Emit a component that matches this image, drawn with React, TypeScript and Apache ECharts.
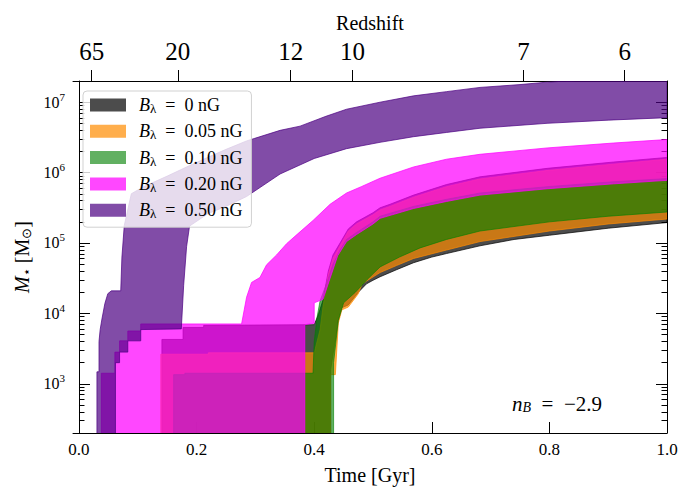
import React, { useEffect, useRef } from "react";
import * as echarts from "echarts";

const FONT = "Liberation Serif";

// Each curve: [time in Gyr, log10(M*/Msun)]; 2.0 means "below the axis" (not yet formed)
const b0Upper: [number, number][] = [
  [0.141, 2.0], [0.141, 3.63], [0.177, 3.63], [0.177, 3.8], [0.212, 3.8], [0.212, 3.83], [0.4, 3.84],
  [0.407, 3.98], [0.415, 4.19], [0.424, 4.6], [0.432, 4.83], [0.444, 5.0], [0.458, 5.2], [0.472, 5.3],
  [0.5, 5.43], [0.512, 5.5], [0.529, 5.55], [0.569, 5.68], [0.625, 5.83], [0.682, 5.94], [0.796, 6.06],
  [0.909, 6.15], [1.0, 6.215],
];
const b0Lower: [number, number][] = [
  [0.141, 2.0], [0.428, 2.0], [0.428, 3.2], [0.441, 3.9], [0.447, 4.08], [0.458, 4.12], [0.475, 4.3],
  [0.489, 4.42], [0.5, 4.47], [0.512, 4.52], [0.54, 4.62], [0.569, 4.72], [0.6, 4.8], [0.625, 4.85],
  [0.682, 4.96], [0.74, 5.05], [0.8, 5.11], [0.9, 5.21], [1.0, 5.29],
];
const b005Upper: [number, number][] = [
  [0.139, 2.0], [0.139, 3.42], [0.22, 3.42], [0.22, 3.44], [0.4, 3.44], [0.41, 3.77], [0.415, 4.1],
  [0.424, 4.55], [0.432, 4.78], [0.444, 4.96], [0.458, 5.17], [0.472, 5.27], [0.5, 5.4], [0.512, 5.47],
  [0.529, 5.52], [0.569, 5.65], [0.625, 5.8], [0.682, 5.91], [0.796, 6.03], [0.909, 6.12], [1.0, 6.19],
];
const b005Lower: [number, number][] = [
  [0.139, 2.0], [0.428, 2.0], [0.428, 3.13], [0.436, 3.13], [0.441, 3.86], [0.447, 4.05], [0.458, 4.09],
  [0.475, 4.28], [0.481, 4.41], [0.489, 4.46], [0.512, 4.58], [0.54, 4.68], [0.569, 4.78], [0.625, 4.9],
  [0.682, 5.02], [0.8, 5.17], [0.9, 5.27], [1.0, 5.34],
];
const b010Upper: [number, number][] = [
  [0.161, 2.0], [0.161, 3.13], [0.18, 3.13], [0.18, 3.15], [0.398, 3.15], [0.4, 3.6], [0.405, 3.95],
  [0.41, 4.18], [0.42, 4.4], [0.432, 4.7], [0.444, 4.9], [0.455, 5.05], [0.472, 5.15], [0.5, 5.3],
  [0.512, 5.38], [0.569, 5.52], [0.625, 5.62], [0.682, 5.71], [0.796, 5.8], [0.909, 5.87], [1.0, 5.915],
];
const b010Lower: [number, number][] = [
  [0.161, 2.0], [0.433, 2.0], [0.433, 3.3], [0.441, 3.9], [0.45, 4.15], [0.47, 4.3], [0.49, 4.48],
  [0.512, 4.66], [0.545, 4.8], [0.58, 4.93], [0.625, 5.05], [0.682, 5.17], [0.8, 5.3], [0.9, 5.38], [1.0, 5.44],
];
const b020Upper: [number, number][] = [
  [0.038, 2.0], [0.038, 3.15], [0.061, 3.15], [0.061, 3.45], [0.069, 3.45], [0.069, 3.61], [0.083, 3.61],
  [0.083, 3.75], [0.105, 3.75], [0.105, 3.85], [0.2765, 3.85], [0.281, 4.05], [0.285, 4.23], [0.2935, 4.44],
  [0.3077, 4.51], [0.319, 4.69], [0.336, 4.83], [0.353, 4.99], [0.372, 5.13], [0.398, 5.32], [0.427, 5.55],
  [0.455, 5.71], [0.48, 5.8], [0.512, 5.92], [0.569, 6.08], [0.625, 6.19], [0.682, 6.26], [0.796, 6.35],
  [0.909, 6.42], [1.0, 6.47],
];
const b020Lower: [number, number][] = [
  [0.038, 2.0], [0.384, 2.0], [0.384, 3.84], [0.4, 3.86], [0.4, 4.15], [0.415, 4.2], [0.425, 4.45],
  [0.44, 4.82], [0.455, 5.02], [0.472, 5.12], [0.5, 5.27], [0.512, 5.35], [0.569, 5.49], [0.625, 5.59],
  [0.682, 5.68], [0.796, 5.77], [0.909, 5.84], [1.0, 5.89],
];
const b050Upper: [number, number][] = [
  [0.0305, 2.0], [0.0305, 3.17], [0.034, 3.17], [0.034, 3.6], [0.036, 3.77], [0.039, 3.92], [0.044, 4.14],
  [0.049, 4.28], [0.055, 4.32], [0.071, 4.32], [0.073, 4.8], [0.077, 5.25], [0.089, 5.7], [0.11, 5.8],
  [0.15, 5.95], [0.183, 6.08], [0.22, 6.22], [0.25, 6.33], [0.285, 6.45], [0.342, 6.6], [0.376, 6.66],
  [0.42, 6.8], [0.455, 6.9], [0.512, 7.0], [0.569, 7.09], [0.625, 7.15], [0.682, 7.21], [0.75, 7.25],
  [0.796, 7.285], [0.85, 7.31], [0.92, 7.33], [1.0, 7.35],
];
const b050Lower: [number, number][] = [
  [0.0305, 2.0], [0.062, 2.0], [0.062, 3.3], [0.069, 3.3], [0.069, 3.45], [0.083, 3.45], [0.083, 3.61],
  [0.105, 3.61], [0.105, 3.77], [0.174, 3.78], [0.178, 4.4], [0.183, 4.95], [0.188, 5.24], [0.22, 5.42],
  [0.25, 5.52], [0.285, 5.66], [0.342, 5.98], [0.4, 6.2], [0.455, 6.34], [0.512, 6.43], [0.569, 6.51],
  [0.625, 6.57], [0.682, 6.63], [0.796, 6.7], [0.9, 6.745], [1.0, 6.78],
];

const seriesNames = ["B0", "B005", "B010", "B020", "B050"];
const legendValues = ["0", "0.05", "0.10", "0.20", "0.50"];
const bandColors = [
  "rgba(0,0,0,0.7)",
  "rgba(255,140,0,0.7)",
  "rgba(0,128,0,0.62)",
  "rgba(255,0,255,0.72)",
  "rgba(75,0,130,0.7)",
];
const bandUppers = [b0Upper, b005Upper, b010Upper, b020Upper, b050Upper];
const bandLowers = [b0Lower, b005Lower, b010Lower, b020Lower, b050Lower];

const timeTicks = [0.0, 0.2, 0.4, 0.6, 0.8, 1.0];
const redshiftLabels = ["65", "20", "12", "10", "7", "6"];
const redshiftTimes = [0.0215, 0.168, 0.36, 0.465, 0.756, 0.928];
const yMajor = [1e3, 1e4, 1e5, 1e6, 1e7];
const yMinor = [
  300, 400, 500, 600, 700, 800, 900,
  2000, 3000, 4000, 5000, 6000, 7000, 8000, 9000,
  20000, 30000, 40000, 50000, 60000, 70000, 80000, 90000,
  200000, 300000, 400000, 500000, 600000, 700000, 800000, 900000,
  2000000, 3000000, 4000000, 5000000, 6000000, 7000000, 8000000, 9000000,
];

const X_MIN = -0.0102;
const X_MAX = 1.0;
const Y_MIN = 200;
const Y_MAX = 2e7;

const supRich = {
  b: { fontFamily: FONT, fontSize: 16, lineHeight: 22, color: "#000" },
  p: { fontFamily: FONT, fontSize: 11, lineHeight: 11, verticalAlign: "top", color: "#000" },
};

export default function App() {
  const ref = useRef<HTMLDivElement>(null);
  useEffect(() => {
    if (!ref.current) return;
    const chart = echarts.init(ref.current, undefined, { renderer: "svg" });

    const series = seriesNames.map((name, k) => {
      const upper = bandUppers[k];
      const lower = bandLowers[k];
      const color = bandColors[k];
      return {
        name,
        type: "custom",
        clip: true,
        xAxisIndex: 0,
        yAxisIndex: 0,
        itemStyle: { color },
        data: [[0.5, 1000]],
        encode: { x: 0, y: 1 },
        renderItem: (params: any, api: any) => {
          if (params.dataIndex !== 0) return null;
          const pts: number[][] = [];
          for (const [t, lm] of upper) pts.push(api.coord([t, Math.pow(10, lm)]));
          for (let i = lower.length - 1; i >= 0; i--) {
            pts.push(api.coord([lower[i][0], Math.pow(10, lower[i][1])]));
          }
          return {
            type: "polygon",
            shape: { points: pts },
            style: { fill: color, stroke: color, lineWidth: 1 },
          };
        },
        z: 2 + k * 0.01,
      };
    });

    const option: any = {
      animation: false,
      textStyle: { fontFamily: FONT, color: "#000" },
      grid: { left: 73, right: 24, top: 81, bottom: 48, containLabel: false },
      legend: {
        orient: "vertical",
        left: 83,
        top: 91,
        padding: [4, 9, 7, 7],
        itemWidth: 36,
        itemHeight: 13,
        itemGap: 6.3,
        icon: "rect",
        selectedMode: false,
        backgroundColor: "rgba(255,255,255,0.8)",
        borderColor: "rgba(204,204,204,0.9)",
        borderWidth: 1,
        borderRadius: 4,
        z: 10,
        data: seriesNames.map((n, k) => ({ name: n, itemStyle: { color: bandColors[k] } })),
        formatter: (name: string) => {
          const k = seriesNames.indexOf(name);
          return `{g| }{i|B}{s|λ}{t|\u2002=\u2002${legendValues[k]} nG}`;
        },
        textStyle: {
          fontFamily: FONT,
          fontSize: 18,
          color: "#000",
          lineHeight: 20,
          rich: {
            g: { fontFamily: FONT, fontSize: 18, lineHeight: 20, width: 8 },
            i: { fontFamily: FONT, fontSize: 18, fontStyle: "italic", lineHeight: 20, color: "#000" },
            s: { fontFamily: FONT, fontSize: 13, lineHeight: 11, verticalAlign: "bottom", color: "#000" },
            t: { fontFamily: FONT, fontSize: 18, lineHeight: 20, color: "#000" },
          },
        },
      },
      xAxis: [
        {
          type: "value",
          position: "bottom",
          min: X_MIN,
          max: X_MAX,
          name: "Time [Gyr]",
          nameLocation: "middle",
          nameGap: 32,
          nameTextStyle: { fontFamily: FONT, fontSize: 20, color: "#000" },
          axisLine: { show: true, lineStyle: { color: "#000", width: 1 } },
          axisTick: { show: true, inside: true, length: 11, customValues: timeTicks, lineStyle: { color: "#000" } },
          axisLabel: {
            customValues: timeTicks,
            margin: 8,
            fontFamily: FONT,
            fontSize: 17,
            color: "#000",
            formatter: (v: number) => v.toFixed(1),
          },
          splitLine: { show: false },
        },
        {
          type: "value",
          position: "top",
          min: X_MIN,
          max: X_MAX,
          name: "Redshift",
          nameLocation: "middle",
          nameGap: 48,
          nameTextStyle: { fontFamily: FONT, fontSize: 20, color: "#000" },
          axisLine: { show: true, lineStyle: { color: "#000", width: 1 } },
          axisTick: { show: true, inside: false, length: 11, customValues: redshiftTimes, lineStyle: { color: "#000" } },
          axisLabel: {
            customValues: redshiftTimes,
            margin: 17,
            fontFamily: FONT,
            fontSize: 25,
            color: "#000",
            formatter: (v: number) => {
              let best = 0;
              for (let i = 1; i < redshiftTimes.length; i++) {
                if (Math.abs(redshiftTimes[i] - v) < Math.abs(redshiftTimes[best] - v)) best = i;
              }
              return redshiftLabels[best];
            },
          },
          splitLine: { show: false },
        },
      ],
      yAxis: [
        {
          type: "log",
          logBase: 10,
          position: "left",
          min: Y_MIN,
          max: Y_MAX,
          name: "{i|M}{s|⋆}{t| [M}{s|⊙}{t|]}",
          nameLocation: "middle",
          nameGap: 35,
          nameRotate: 90,
          nameTextStyle: {
            fontFamily: FONT,
            fontSize: 20,
            color: "#000",
            rich: {
              i: { fontFamily: FONT, fontSize: 20, fontStyle: "italic", lineHeight: 22, color: "#000" },
              s: { fontFamily: FONT, fontSize: 13, lineHeight: 12, verticalAlign: "bottom", color: "#000" },
              t: { fontFamily: FONT, fontSize: 20, lineHeight: 22, color: "#000" },
            },
          },
          axisLine: { show: true, lineStyle: { color: "#000", width: 1 } },
          axisTick: { show: true, inside: true, length: 11, customValues: yMajor, lineStyle: { color: "#000" } },
          axisLabel: {
            customValues: yMajor,
            margin: 8,
            formatter: (v: number) => `{b|10}{p|${Math.round(Math.log10(v))}}`,
            rich: supRich,
          },
          splitLine: { show: false },
        },
        {
          type: "log",
          logBase: 10,
          position: "left",
          min: Y_MIN,
          max: Y_MAX,
          axisLine: { show: false },
          axisTick: { show: true, inside: true, length: 5.5, customValues: yMinor, lineStyle: { color: "#000" } },
          axisLabel: { show: false },
          splitLine: { show: false },
        },
        {
          type: "log",
          logBase: 10,
          position: "right",
          min: Y_MIN,
          max: Y_MAX,
          axisLine: { show: true, lineStyle: { color: "#000", width: 1 } },
          axisTick: { show: true, inside: true, length: 11, customValues: yMajor, lineStyle: { color: "#000" } },
          axisLabel: { show: false },
          splitLine: { show: false },
        },
        {
          type: "log",
          logBase: 10,
          position: "right",
          min: Y_MIN,
          max: Y_MAX,
          axisLine: { show: false },
          axisTick: { show: true, inside: true, length: 5.5, customValues: yMinor, lineStyle: { color: "#000" } },
          axisLabel: { show: false },
          splitLine: { show: false },
        },
      ],
      graphic: [
        {
          type: "text",
          left: 512,
          top: 393,
          z: 20,
          style: {
            text: "{i|n}{s|B}{t|\u2002=\u2002−2.9}",
            fontFamily: FONT,
            fontSize: 21,
            fill: "#000",
            rich: {
              i: { fontFamily: FONT, fontSize: 21, fontStyle: "italic", lineHeight: 22, color: "#000" },
              s: { fontFamily: FONT, fontSize: 14, fontStyle: "italic", lineHeight: 12, verticalAlign: "bottom", color: "#000" },
              t: { fontFamily: FONT, fontSize: 21, lineHeight: 22, color: "#000" },
            },
          },
        },
      ],
      series,
    };

    chart.setOption(option);
    return () => chart.dispose();
  }, []);

  return (
    <div
      ref={ref}
      style={{ position: "fixed", left: 0, top: 0, width: 691, height: 490, background: "#fff" }}
    />
  );
}
